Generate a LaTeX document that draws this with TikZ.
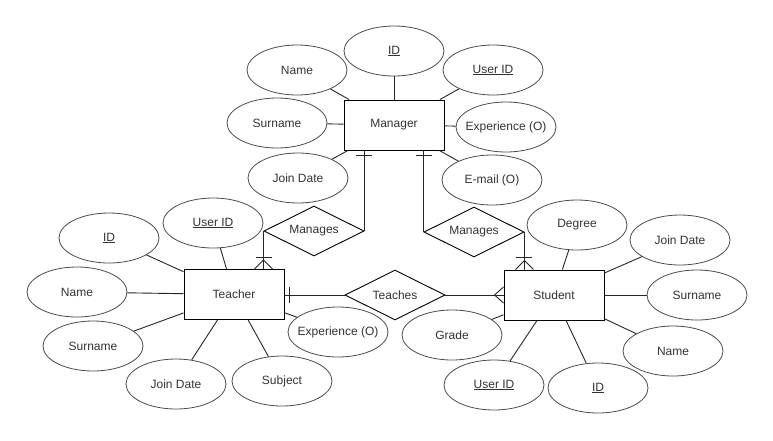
\documentclass[tikz,border=0pt]{standalone}
\usepackage{fontspec}
\setmainfont{Liberation Sans}
\usetikzlibrary{shapes.geometric,calc}
\begin{document}
\begin{tikzpicture}[x=1pt,y=-1pt,
  every node/.style={font=\fontsize{12}{14}\selectfont, text=black!80},
  attr/.style={ellipse, draw=black!70, line width=0.8pt, minimum width=100pt, minimum height=50pt, inner sep=0pt},
  ent/.style={rectangle, draw=black, line width=1pt, minimum width=100pt, minimum height=50pt, inner sep=0pt},
  rel/.style={diamond, draw=black, line width=0.9pt, minimum width=100pt, minimum height=50pt, inner sep=0pt, aspect=2},
  conn/.style={draw=black!85, line width=0.9pt}]
\useasboundingbox (0,0) rectangle (773,440);
\fill[white] (0,0) rectangle (773,440);

% Manager
\node[ent] (mgr) at (394,125) {Manager};
\node[attr] (mid) at (394,51) {\underline{ID}};
\node[attr] (mname) at (297,70) {Name};
\node[attr] (muid) at (493,70) {\underline{User ID}};
\node[attr] (msur) at (277,123) {Surname};
\node[attr] (mexp) at (506,127) {\makebox[0pt]{Experience (O)}};
\node[attr] (mjoin) at (298,178) {Join Date};
\node[attr] (mmail) at (492,180) {E-mail (O)};

% Relations
\node[rel] (manL) at (314,231) {Manages};
\node[rel] (manR) at (474,232) {Manages};
\node[rel] (teach) at (395,295) {Teaches};

% Teacher
\node[ent] (tch) at (234,294.5) {Teacher};
\node[attr] (tid) at (109,238) {\underline{ID}};
\node[attr] (tuid) at (213,223) {\underline{User ID}};
\node[attr] (tname) at (77,292) {Name};
\node[attr] (tsur) at (93,346) {Surname};
\node[attr] (tjoin) at (176,384) {Join Date};
\node[attr] (tsubj) at (282,381) {Subject};
\node[attr] (texp) at (338,332) {\makebox[0pt]{Experience (O)}};

% Student
\node[ent] (stu) at (554,295) {Student};
\node[attr] (sdeg) at (577,225) {Degree};
\node[attr] (sjoin) at (680,240) {Join Date};
\node[attr] (ssur) at (697,295) {Surname};
\node[attr] (sname) at (673,351) {Name};
\node[attr] (sid) at (598,388) {\underline{ID}};
\node[attr] (suid) at (494,385) {\underline{User ID}};
\node[attr] (sgrade) at (452,335) {Grade};

% attribute connectors
\foreach \a in {mid,mname,muid,msur,mexp,mjoin,mmail}
  \draw[conn] (mgr) -- (\a);
\foreach \a in {tid,tuid,tname,tsur,tjoin,tsubj,texp}
  \draw[conn] (tch) -- (\a);
\foreach \a in {sdeg,sjoin,ssur,sname,sid,suid,sgrade}
  \draw[conn] (stu) -- (\a);

% Manager -- left Manages -- Teacher
\coordinate (mL) at (mgr.south -| manL.east);
\coordinate (tT) at (manL.west |- tch.north);
\draw[conn] (mL) -- (manL.east);
\draw[conn] ($(mL)+(-8,5)$) -- ($(mL)+(8,5)$);
\draw[conn] (manL.west) -- (tT);
\draw[conn] ($(tT)+(-8,-12)$) -- ($(tT)+(8,-12)$);
\draw[conn] ($(tT)+(-9,0)$) -- ($(tT)+(0,-9)$) -- ($(tT)+(9,0)$);

% Manager -- right Manages -- Student
\coordinate (mR) at (mgr.south -| manR.west);
\coordinate (sT) at (manR.east |- stu.north);
\draw[conn] (mR) -- (manR.west);
\draw[conn] ($(mR)+(-8,5)$) -- ($(mR)+(8,5)$);
\draw[conn] (manR.east) -- (sT);
\draw[conn] ($(sT)+(-8,-12)$) -- ($(sT)+(8,-12)$);
\draw[conn] ($(sT)+(-9,0)$) -- ($(sT)+(0,-9)$) -- ($(sT)+(9,0)$);

% Teacher -- Teaches -- Student
\coordinate (tE) at (tch.east |- teach.west);
\coordinate (sW) at (stu.west |- teach.east);
\draw[conn] (tE) -- (teach.west);
\draw[conn] ($(tE)+(5,-8)$) -- ($(tE)+(5,8)$);
\draw[conn] (teach.east) -- (sW);
\draw[conn] ($(sW)+(0,-8)$) -- ($(sW)+(-9,0)$) -- ($(sW)+(0,8)$);
\end{tikzpicture}
\end{document}
